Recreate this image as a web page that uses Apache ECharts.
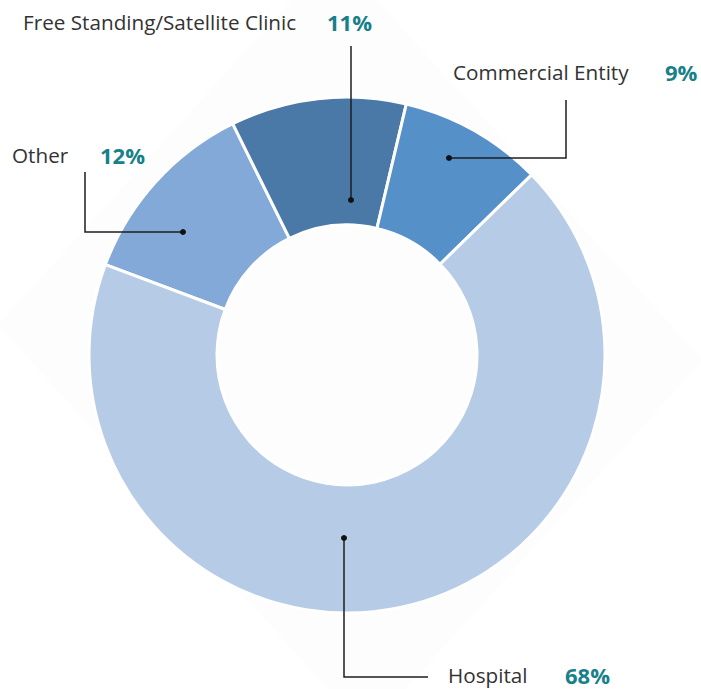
<!DOCTYPE html>
<html>
<head>
<meta charset="utf-8">
<script src="https://cdn.jsdelivr.net/npm/echarts@6/dist/echarts.min.js"></script>
<style>
  html, body {margin: 0; padding: 0; background: #fff;}
  #chart {width: 701px; height: 689px;}
</style>
</head>
<body>
<div id="chart"></div>
<script>
// slice order runs clockwise from the Other/Hospital boundary
const categories = ['Other', 'Free Standing/Satellite Clinic', 'Commercial Entity', 'Hospital']
const shares = [12, 11, 9, 68]
const sliceColors = ['#82a9d7', '#4a78a7', '#5590c8', '#b6cbe6']

// callout layout: where the name / percent sit and how the leader line runs
const callouts = [
  {nameX: 12, pctX: 100, y: 155, line: [[183, 232], [85, 232], [85, 172]]},
  {nameX: 23, pctX: 327, y: 22, line: [[351, 200], [351, 46]]},
  {nameX: 453, pctX: 665, y: 72, line: [[449, 158], [566, 158], [566, 100]]},
  {nameX: 448, pctX: 565, y: 675, line: [[344, 538], [344, 677], [428, 677]]}
]

const chart = echarts.init(document.getElementById('chart'), null, {renderer: 'svg'})

const graphics = [
  {
    type: 'polygon',
    z: -10,
    silent: true,
    shape: {points: [[334, -47], [703, 360], [367, 732], [-2, 325]]},
    style: {fill: '#fdfdfd'}
  }
]

callouts.forEach((c, i) => {
  graphics.push({
    type: 'polyline',
    z: 20,
    shape: {points: c.line},
    style: {stroke: '#1e1e1e', lineWidth: 1.5, fill: null}
  })
  graphics.push({
    type: 'circle',
    z: 21,
    shape: {cx: c.line[0][0], cy: c.line[0][1], r: 3},
    style: {fill: '#111'}
  })
  graphics.push({
    type: 'text',
    z: 20,
    x: c.nameX,
    y: c.y,
    style: {
      text: categories[i],
      fill: '#333',
      font: '20.7px "Open Sans", sans-serif',
      textAlign: 'left',
      textVerticalAlign: 'middle'
    }
  })
  graphics.push({
    type: 'text',
    z: 20,
    x: c.pctX,
    y: c.y,
    style: {
      text: shares[i] + '%',
      fill: '#17808a',
      font: 'bold 22px "Open Sans", sans-serif',
      textAlign: 'left',
      textVerticalAlign: 'middle'
    }
  })
})

chart.setOption({
  animation: false,
  graphic: graphics,
  series: [
    {
      type: 'pie',
      center: [347, 355],
      radius: [130, 258],
      startAngle: 159.5,
      clockwise: true,
      label: {show: false},
      labelLine: {show: false},
      itemStyle: {borderColor: '#fff', borderWidth: 3},
      data: categories.map((name, i) => ({
        name,
        value: shares[i],
        itemStyle: {color: sliceColors[i]}
      }))
    }
  ]
})
</script>
</body>
</html>
